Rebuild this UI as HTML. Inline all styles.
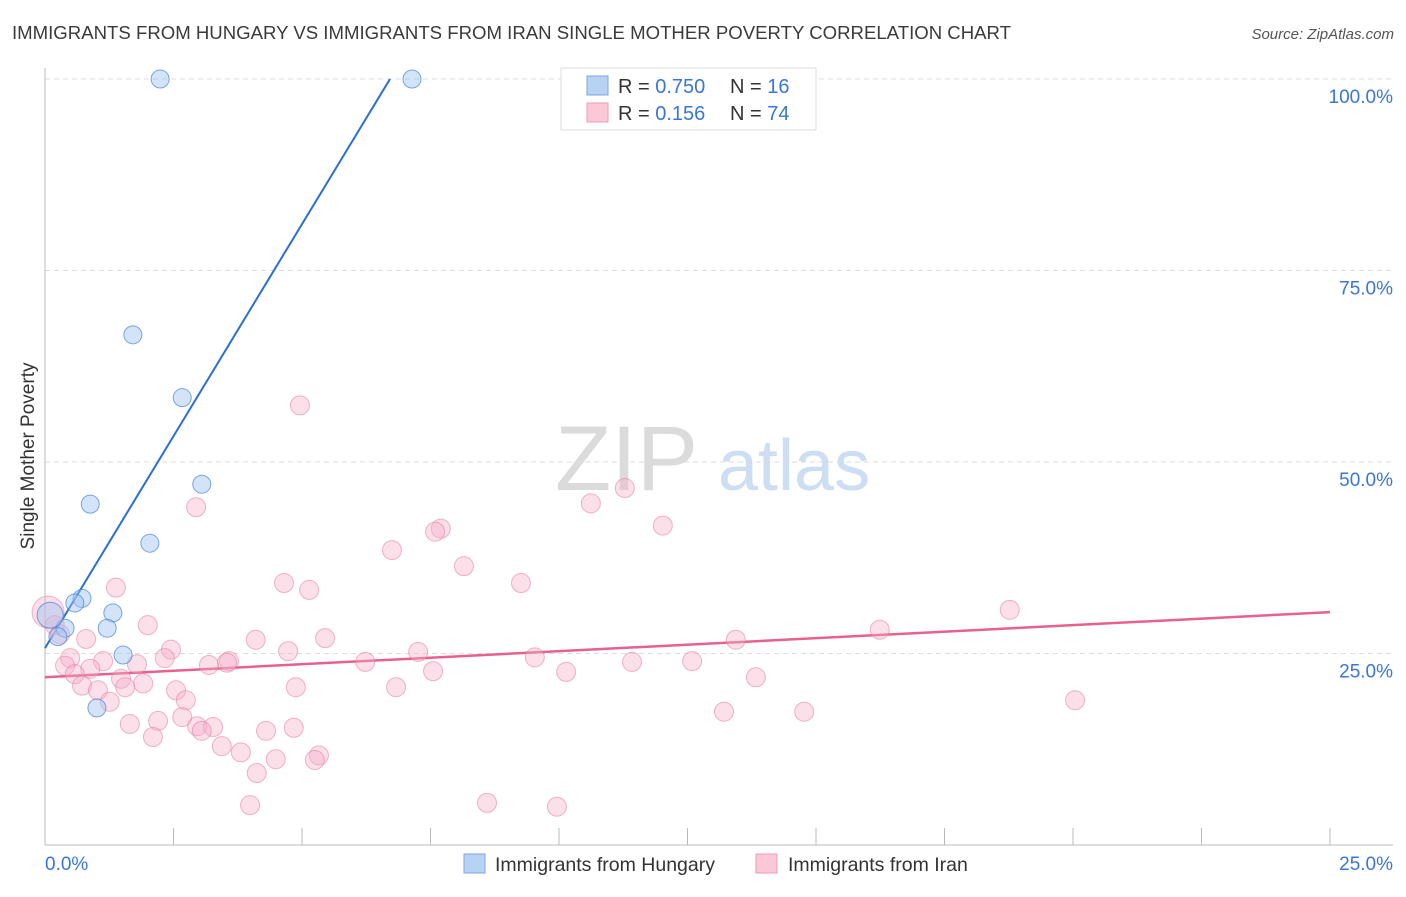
<!DOCTYPE html>
<html><head><meta charset="utf-8"><style>
body{margin:0;background:#fff;font-family:"Liberation Sans",sans-serif;}
svg text{font-family:"Liberation Sans",sans-serif;}
</style></head><body>
<svg id="chart" width="1406" height="892" xmlns="http://www.w3.org/2000/svg">
<text x="12" y="39" font-size="18.6" fill="#3a3a3a">IMMIGRANTS FROM HUNGARY VS IMMIGRANTS FROM IRAN SINGLE MOTHER POVERTY CORRELATION CHART</text>
<text x="1394" y="39" font-size="15" fill="#555" text-anchor="end" font-style="italic">Source: ZipAtlas.com</text>
<text transform="translate(34,456) rotate(-90)" font-size="19" fill="#333" text-anchor="middle">Single Mother Poverty</text>
<g opacity="0.9">
<text x="555" y="490" font-size="92" font-family="Liberation Serif,serif" fill="#d8d8d8">ZIP</text>
<text x="718" y="490" font-size="72" fill="#c8daf2">atlas</text>
</g>
<g id="grid"></g><g id="axes"></g><g id="lines"></g><g id="dots"></g>
<g>
<rect x="561" y="68" width="255" height="62" fill="#fff" stroke="#ddd"/>
<rect x="587" y="76" width="21" height="19" fill="#b8d2f4" stroke="#7aa6e0"/>
<rect x="587" y="103" width="21" height="19" fill="#fbc8d8" stroke="#ee9ab6"/>
<text x="618" y="93" font-size="20" fill="#333">R = <tspan fill="#3a76d8">0.750</tspan></text>
<text x="730" y="93" font-size="20" fill="#333">N = <tspan fill="#3a76d8"> 16</tspan></text>
<text x="618" y="120" font-size="20" fill="#333">R = <tspan fill="#3a76d8"> 0.156</tspan></text>
<text x="730" y="120" font-size="20" fill="#333">N = <tspan fill="#3a76d8">74</tspan></text>
</g>
<g>
<rect x="464" y="854" width="21" height="19" fill="#b8d2f4" stroke="#7aa6e0"/>
<text x="495" y="871" font-size="19.5" fill="#333">Immigrants from Hungary</text>
<rect x="756" y="854" width="21" height="19" fill="#fbc8d8" stroke="#ee9ab6"/>
<text x="788" y="871" font-size="19.5" fill="#333">Immigrants from Iran</text>
</g>
</svg>
<script>
const xTicks=[0,2.5,5,7.5,10,12.5,15,17.5,20,22.5,25];
const yTicks=[25,50,75,100];
const yTickLabels=["25.0%","50.0%","75.0%","100.0%"];
const hungaryX=[2.24,7.14,1.71,2.67,3.05,0.88,2.04,0.72,0.58,1.32,1.21,0.39,0.25,1.52,1.01,0.1];
const hungaryY=[100,100,66.6,58.4,47.1,44.5,39.4,32.2,31.6,30.3,28.3,28.3,27.2,24.8,17.9,30.0];
const iranX=[4.96,11.28,10.62,2.94,12.02,7.70,7.59,6.75,8.15,9.26,4.65,5.14,1.38,18.77,2.00,16.24,5.45,4.10,13.44,2.45,4.73,7.26,9.53,0.49,1.13,2.33,3.58,11.42,12.59,6.23,3.19,1.79,3.54,0.39,0.88,7.55,10.14,0.58,1.48,13.83,1.91,0.72,1.56,4.88,6.83,1.03,2.55,2.74,1.26,20.04,13.21,14.77,2.67,2.20,1.65,2.96,3.27,3.05,4.30,4.84,2.10,3.44,3.81,5.33,5.25,4.49,4.12,3.99,8.60,9.96,0.19,0.29,0.06,0.8];
const iranY=[57.4,46.6,44.6,44.1,41.7,41.3,40.9,38.5,36.4,34.2,34.2,33.3,33.6,30.7,28.7,28.1,27.0,26.8,26.8,25.5,25.3,25.2,24.5,24.4,24.0,24.4,24.0,23.9,24.0,23.9,23.5,23.6,23.8,23.4,23.0,22.7,22.6,22.3,21.7,21.9,21.1,20.8,20.6,20.6,20.6,20.2,20.2,18.9,18.7,18.9,17.4,17.4,16.7,16.2,15.8,15.5,15.4,14.9,14.9,15.3,14.1,12.9,12.1,11.7,11.1,11.2,9.4,5.2,5.5,5.0,28.7,27.5,30.4,26.9];
const hungaryTrend=[25.7,11.07];
const iranTrend=[21.9,0.34];
const NS="http://www.w3.org/2000/svg";
const X=v=>45+v/25*1285, Y=v=>845-v/100*766;
function mk(tag,attrs,parent){const e=document.createElementNS(NS,tag);for(const k in attrs)e.setAttribute(k,attrs[k]);document.getElementById(parent).appendChild(e);return e;}
yTicks.forEach((t,i)=>{
 const g=mk('line',{x1:45,x2:1393,y1:Y(t),y2:Y(t),stroke:'#dcdcdc','stroke-dasharray':'5,4'},'grid');
 
 
 const l=mk('text',{x:1393,y:Y(t)+24,'font-size':19,fill:'#3a76d8','text-anchor':'end'},'axes');
 l.textContent=yTickLabels[i];
 
 
});
const ax=mk('line',{x1:45,x2:45,y1:68,y2:845,stroke:'#bbb'},'axes');


const bx=mk('line',{x1:45,x2:1393,y1:845,y2:845,stroke:'#bbb'},'axes');


xTicks.forEach(t=>{
 const tk=mk('line',{x1:X(t),x2:X(t),y1:828,y2:845,stroke:'#bbb'},'axes');
 
 
});
const xl0=mk('text',{x:45,y:870,'font-size':19,fill:'#3a76d8'},'axes');xl0.textContent='0.0%';


const xl1=mk('text',{x:1393,y:870,'font-size':19,fill:'#3a76d8','text-anchor':'end'},'axes');xl1.textContent='25.0%';


const hx2=(100-hungaryTrend[0])/hungaryTrend[1];
const tl1=mk('line',{x1:X(0),y1:Y(hungaryTrend[0]),x2:X(hx2),y2:Y(100),stroke:'#2a6fd4','stroke-width':2},'lines');


const tl2=mk('line',{x1:X(0),y1:Y(iranTrend[0]),x2:X(25),y2:Y(iranTrend[0]+iranTrend[1]*25),stroke:'#e8608e','stroke-width':2.5},'lines');


iranX.forEach((v,i)=>{
 const r=i==72?16:9.5;
 const c=mk('circle',{cx:X(v),cy:Y(iranY[i]),r:r,fill:'rgba(246,176,200,0.4)',stroke:'rgba(232,120,160,0.55)','stroke-width':1},'dots');
 
 
});
hungaryX.forEach((v,i)=>{
 const r=i==15?13:9;
 const c=mk('circle',{cx:X(v),cy:Y(hungaryY[i]),r:r,fill:'rgba(160,195,240,0.45)',stroke:'rgba(70,130,215,0.7)','stroke-width':1},'dots');
 
 
});
</script>
</body></html>
